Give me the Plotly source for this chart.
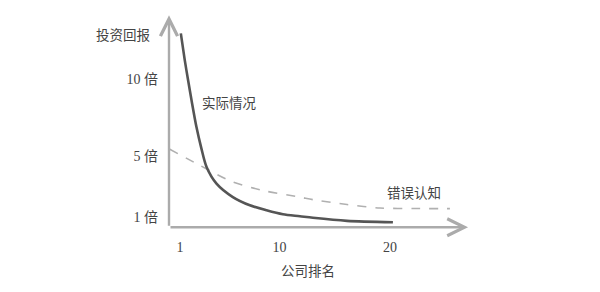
import plotly.graph_objects as go

# Data (schematic)
actual_rank = [1.07, 1.43, 1.73, 2.04, 2.49, 2.93, 3.40, 4.30, 5.78, 7.32, 8.83,
               10.31, 11.85, 13.03, 16.11, 20.27]
actual_return = [13.02, 11.25, 9.94, 8.63, 6.86, 5.48, 4.26, 3.17, 2.29, 1.75, 1.42,
                 1.16, 1.03, 0.93, 0.73, 0.64]

belief_rank = [0.07, 2.79, 5.78, 8.83, 11.85, 13.03, 16.11, 19.1, 22.26, 25.43]
belief_return = [5.42, 4.37, 3.28, 2.67, 2.29, 2.12, 1.80, 1.57, 1.54, 1.53]

x_ticks = [1, 10, 20]
x_ticktext = ["1", "10", "20"]
y_ticks = [1, 5, 10]
y_ticktext = ["1 倍", "5 倍", "10 倍"]

FONT = "Liberation Serif, Noto Sans CJK SC, serif"
TXT = "#444444"
AXC = "#ababab"

fig = go.Figure()
fig.add_trace(go.Scatter(x=belief_rank, y=belief_return, mode="lines",
                         line=dict(color="#b0b0b0", width=1.6, dash="dash",
                                   shape="spline", smoothing=0.8),
                         hoverinfo="skip", showlegend=False))
fig.add_trace(go.Scatter(x=actual_rank, y=actual_return, mode="lines",
                         line=dict(color="#555555", width=2.6, shape="spline", smoothing=0.8),
                         hoverinfo="skip", showlegend=False))

x0, y0 = 0.0, 0.31
x_tip, y_tip = 27.07, 14.2
arrow_common = dict(showarrow=True, arrowhead=5, arrowsize=1.4, arrowwidth=2.4,
                    arrowcolor=AXC, axref="x", ayref="y", xref="x", yref="y",
                    text="", standoff=0, startstandoff=0)
annotations = [
    dict(x=x_tip, y=y0, ax=x0, ay=y0, **arrow_common),
    dict(x=x0, y=y_tip, ax=x0, ay=y0, **arrow_common),
]
data_labels = [
    ("实际情况", 5.51, 8.43),
    ("错误认知", 22.17, 2.54),
]
for t, xx, yy in data_labels:
    annotations.append(dict(text=t, x=xx, y=yy, xref="x", yref="y", showarrow=False,
                            xanchor="center", yanchor="middle",
                            font=dict(family=FONT, size=13.5, color=TXT)))
paper_labels = [
    ("投资回报", -0.150, 0.887),
    ("公司排名", 0.454, -0.180),
]
for t, xx, yy in paper_labels:
    annotations.append(dict(text=t, x=xx, y=yy, xref="paper", yref="paper", showarrow=False,
                            xanchor="center", yanchor="middle",
                            font=dict(family=FONT, size=13.5, color=TXT)))

fig.update_layout(
    width=600, height=292,
    margin=dict(l=169, r=125, t=10, b=60),
    paper_bgcolor="white", plot_bgcolor="white",
    annotations=annotations,
    font=dict(family=FONT, size=14, color=TXT),
    xaxis=dict(range=[0, 27.7], showgrid=False, zeroline=False, showline=False,
               tickvals=x_ticks, ticktext=x_ticktext, ticks="",
               ticklabelstandoff=5, tickfont=dict(family=FONT, size=14, color=TXT)),
    yaxis=dict(range=[0, 14.55], showgrid=False, zeroline=False, showline=False,
               tickvals=y_ticks, ticktext=y_ticktext, ticks="",
               ticklabelstandoff=10, tickfont=dict(family=FONT, size=14, color=TXT)),
)

fig.write_html("out.html")
